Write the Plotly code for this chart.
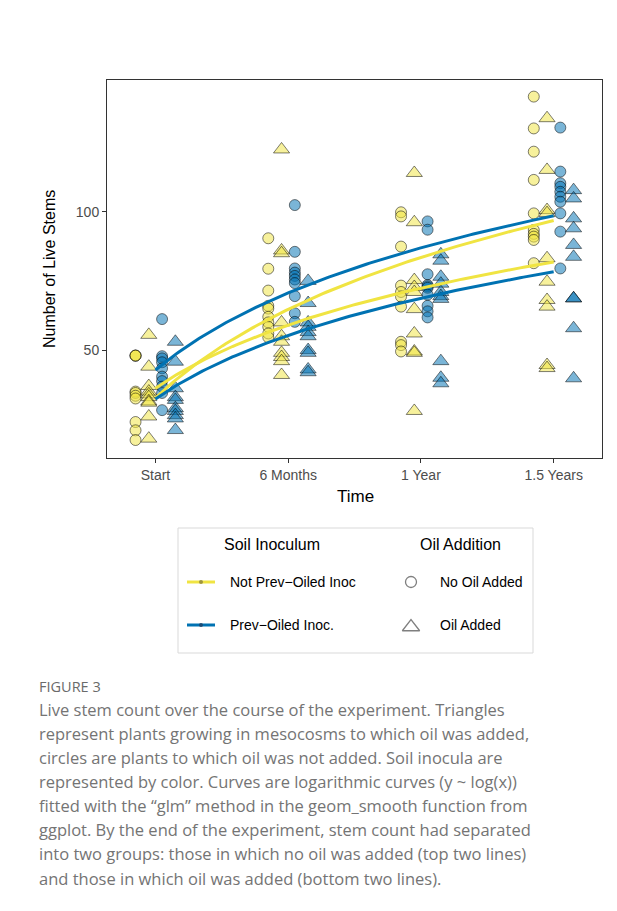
import numpy as np
import plotly.graph_objects as go

W, H = 617, 911

# ---- data -------------------------------------------------------------
time_labels = ["Start", "6 Months", "1 Year", "1.5 Years"]
time_index = [1, 2, 3, 4]

# live stem counts per mesocosm, one sub-list per time point
not_prev_no_oil = [
    [48, 48, 48, 35, 34.5, 33.5, 32.5, 24, 21, 17.5],
    [90.4, 79.4, 71.5, 66, 65, 62, 60, 58.4, 56, 54.6],
    [99.8, 98.3, 87.4, 73.3, 71, 69.3, 65.7, 53, 51.8, 49.5],
    [141.6, 130.1, 121.7, 111.5, 99.4, 93.4, 92, 91, 89.8, 81.4],
]
not_prev_oil = [
    [55.5, 44, 37, 35, 34, 33, 31.5, 31, 26, 18],
    [122.5, 86, 85, 60, 55, 53, 49, 47.5, 46, 41],
    [114, 96.2, 75.3, 72.8, 71, 64.8, 56, 49.5, 49, 28],
    [133.8, 115.1, 100.6, 99.5, 83.2, 74.7, 68.1, 65.7, 44.6, 43.5],
]
prev_no_oil = [
    [61.2, 47.8, 47, 45.6, 43.4, 40.4, 38.8, 36.8, 34.5, 28.3],
    [102.4, 85.5, 79.5, 78, 76.8, 75.5, 74.2, 69.5, 63.3, 60.2],
    [96.5, 93.5, 77.4, 73.5, 73, 72.5, 70, 66, 64, 61.8],
    [130.4, 114.5, 110.3, 109, 107.2, 105.4, 103.6, 99.4, 92.8, 79.5],
]
prev_oil = [
    [53, 45.8, 36.2, 33, 32, 29, 28, 26.5, 25.3, 21.1],
    [75, 67, 60, 58.4, 56.5, 55, 50, 49, 43, 42],
    [84.6, 82.3, 76.5, 74, 71, 69.5, 68.5, 46, 40, 38],
    [107.8, 104.8, 97.6, 94, 88, 83.7, 68.7, 68.7, 57.9, 39.8],
]

caption_title = "FIGURE 3"
caption_lines = [
    "Live stem count over the course of the experiment. Triangles",
    "represent plants growing in mesocosms to which oil was added,",
    "circles are plants to which oil was not added. Soil inocula are",
    "represented by color. Curves are logarithmic curves (y ~ log(x))",
    "fitted with the \u201cglm\u201d method in the geom_smooth function from",
    "ggplot. By the end of the experiment, stem count had separated",
    "into two groups: those in which no oil was added (top two lines)",
    "and those in which oil was added (bottom two lines).",
]

# ---- styling ----------------------------------------------------------
YELLOW = "#F0E442"
BLUE = "#0072B2"
FONT = "Liberation Sans, Arial, sans-serif"
CAP_FONT = "Open Sans, sans-serif"

# panel edges in pixels
PX0, PX1, PY0, PY1 = 107, 602, 80, 458

groups = [
    # data, colour, symbol, dodge offset, marker size
    (not_prev_no_oil, YELLOW, "circle", -0.15, 11),
    (not_prev_oil, YELLOW, "triangle-up", -0.05, 14),
    (prev_no_oil, BLUE, "circle", 0.05, 11),
    (prev_oil, BLUE, "triangle-up", 0.15, 14),
]


def rgba(hex_colour, a):
    h = hex_colour.lstrip("#")
    r, g, b = int(h[0:2], 16), int(h[2:4], 16), int(h[4:6], 16)
    return f"rgba({r},{g},{b},{a})"


fig = go.Figure()

# points, dodged by group
for values, colour, symbol, off, size in groups:
    xs, ys = [], []
    for t, vals in zip(time_index, values):
        xs += [t + off] * len(vals)
        ys += vals
    fig.add_trace(go.Scatter(
        x=xs, y=ys, mode="markers", showlegend=False, hoverinfo="skip",
        marker=dict(symbol=symbol, size=size, color=rgba(colour, 0.52),
                    line=dict(color="rgba(0,0,0,0.5)", width=1)),
        xaxis="x", yaxis="y"))

# logarithmic fits y ~ log(x), drawn on top of the points
xfit = np.linspace(1, 4, 120)
for values, colour, symbol, off, size in groups:
    xs, ys = [], []
    for t, vals in zip(time_index, values):
        xs += [t] * len(vals)
        ys += vals
    slope, intercept = np.polyfit(np.log(xs), ys, 1)
    fig.add_trace(go.Scatter(
        x=xfit, y=intercept + slope * np.log(xfit), mode="lines",
        line=dict(color=colour, width=3), showlegend=False, hoverinfo="skip",
        xaxis="x", yaxis="y"))

# ---- legend keys on a pixel overlay axis -------------------------------
fig.add_trace(go.Scatter(x=[187, 215], y=[582, 582], mode="lines",
                         line=dict(color=YELLOW, width=3), showlegend=False,
                         hoverinfo="skip", xaxis="x2", yaxis="y2"))
fig.add_trace(go.Scatter(x=[187, 215], y=[625, 625], mode="lines",
                         line=dict(color=BLUE, width=3), showlegend=False,
                         hoverinfo="skip", xaxis="x2", yaxis="y2"))
fig.add_trace(go.Scatter(x=[201, 201], y=[582, 625], mode="markers",
                         marker=dict(size=4, color=["rgba(150,140,60,0.9)", "rgba(30,70,110,0.9)"]),
                         showlegend=False, hoverinfo="skip", xaxis="x2", yaxis="y2"))
fig.add_trace(go.Scatter(x=[411], y=[582], mode="markers",
                         marker=dict(symbol="circle-open", size=11,
                                     line=dict(color="#7f7f7f", width=1.3), color="#7f7f7f"),
                         showlegend=False, hoverinfo="skip", xaxis="x2", yaxis="y2"))
fig.add_trace(go.Scatter(x=[411], y=[627], mode="markers",
                         marker=dict(symbol="triangle-up-open", size=15,
                                     line=dict(color="#7f7f7f", width=1.3), color="#7f7f7f"),
                         showlegend=False, hoverinfo="skip", xaxis="x2", yaxis="y2"))


def pix_note(x, y, text, size, color="#000", xanchor="left", font=FONT, angle=0):
    return dict(x=x, y=y, xref="x2", yref="y2", text=text, showarrow=False,
                xanchor=xanchor, yanchor="middle", textangle=angle,
                font=dict(family=font, size=size, color=color))


annotations = [
    pix_note(49, 269, "Number of Live Stems", 16, xanchor="center", angle=-90),
    pix_note(355, 496, "Time", 17, xanchor="center"),
    pix_note(272, 544, "Soil Inoculum", 16, xanchor="center"),
    pix_note(460, 544, "Oil Addition", 16, xanchor="center"),
    pix_note(228, 582, "Not Prev\u2212Oiled Inoc", 14),
    pix_note(228, 625, "Prev\u2212Oiled Inoc.", 14),
    pix_note(438, 582, "No Oil Added", 14),
    pix_note(438, 625, "Oil Added", 14),
    pix_note(37, 686, caption_title, 14.5, color="#6a6a6a", font=CAP_FONT),
]
for i, line in enumerate(caption_lines):
    annotations.append(pix_note(37, 709 + i * 24.15, line, 16.5, color="#747474", font=CAP_FONT))

shapes = [
    dict(type="rect", xref="x2", yref="y2", x0=178, x1=533, y0=528, y1=653,
         line=dict(color="#d9d9d9", width=1), fillcolor="rgba(0,0,0,0)", layer="below"),
]

fig.update_layout(
    width=W, height=H, margin=dict(l=0, r=0, t=0, b=0),
    paper_bgcolor="white", plot_bgcolor="rgba(0,0,0,0)",
    showlegend=False,
    font=dict(family=FONT),
    xaxis=dict(domain=[PX0 / W, PX1 / W], range=[0.635, 4.364],
               tickvals=time_index, ticktext=time_labels,
               showline=True, mirror=True, linecolor="#333", linewidth=1,
               ticks="outside", ticklen=4, tickcolor="#333",
               tickfont=dict(size=14, color="#4d4d4d", family=FONT),
               showgrid=False, zeroline=False, anchor="y"),
    yaxis=dict(domain=[(H - PY1) / H, (H - PY0) / H], range=[11.0, 147.6],
               tickvals=[50, 100],
               showline=True, mirror=True, linecolor="#333", linewidth=1,
               ticks="outside", ticklen=4, tickcolor="#333",
               tickfont=dict(size=14, color="#4d4d4d", family=FONT),
               showgrid=False, zeroline=False, anchor="x"),
    xaxis2=dict(domain=[0, 1], range=[0, W], visible=False, anchor="y2"),
    yaxis2=dict(domain=[0, 1], range=[H, 0], visible=False, anchor="x2"),
    annotations=annotations, shapes=shapes,
)

fig.write_html("out.html")
